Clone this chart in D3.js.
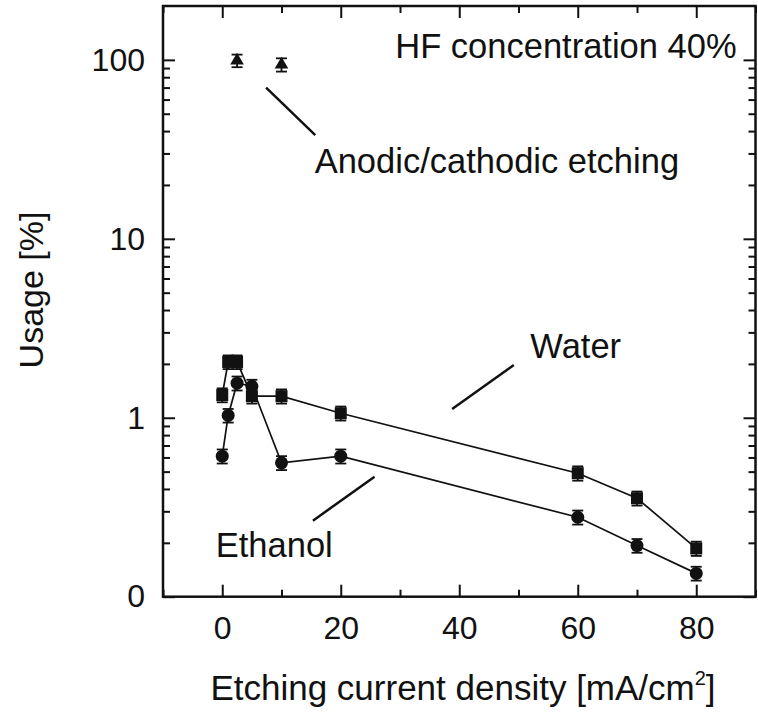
<!DOCTYPE html>
<html>
<head>
<meta charset="utf-8">
<script src="https://cdn.jsdelivr.net/npm/d3@7"></script>
<style>
  html, body { margin: 0; padding: 0; background: #fff; }
  svg { display: block; }
  text { font-family: "Liberation Sans", Arial, sans-serif; fill: #111; }
</style>
</head>
<body>
<div id="chart"></div>
<script>
// Etching current density [mA/cm^2]
const currentDensity = [0, 1, 2.5, 5, 10, 20, 60, 70, 80];
// Usage [%] in water-based electrolyte (squares)
const waterUsage = [1.34, 2.05, 2.05, 1.32, 1.32, 1.06, 0.49, 0.355, 0.186];
const waterErr   = [0.12, 0.18, 0.18, 0.12, 0.12, 0.095, 0.045, 0.032, 0.017];
// Usage [%] in ethanol-based electrolyte (circles)
const ethanolUsage = [0.61, 1.03, 1.56, 1.5, 0.56, 0.61, 0.278, 0.193, 0.135];
const ethanolErr   = [0.055, 0.09, 0.14, 0.13, 0.05, 0.055, 0.025, 0.017, 0.012];
// Anodic/cathodic etching (triangles)
const anodicDensity = [2.5, 10];
const anodicUsage   = [99, 94];
const anodicErr     = [8, 8];

const xMajorTicks = [0, 20, 40, 60, 80];
const xMinorTicks = [-10, 10, 30, 50, 70, 90];
const yMajorTicks = [0.1, 1, 10, 100];
const yTickLabels = ["0", "1", "10", "100"];

const W = 758, H = 713;
const plotLeft = 163, plotRight = 755.5, plotTop = 6, plotBottom = 596.7;

const svg = d3.select("#chart").append("svg")
  .attr("width", W).attr("height", H);

const x = d3.scaleLinear().domain([-10, 90]).range([plotLeft, plotRight]);
const y = d3.scaleLog().domain([0.1, 200]).range([plotBottom, plotTop]);

// minor log ticks: 2..9 in each decade
const yMinorTicks = [];
[0.1, 1, 10, 100].forEach(d => {
  for (let k = 2; k <= 9; k++) {
    const v = d * k;
    if (v < 200) yMinorTicks.push(v);
  }
});

const axisG = svg.append("g");

function styleAxis(g) {
  g.select(".domain").remove();
  g.selectAll(".tick line").attr("stroke", "#111").attr("stroke-width", 2);
  g.selectAll(".tick text").style("font-size", "32px")
    .style("font-family", "'Liberation Sans', Arial, sans-serif").attr("fill", "#111");
}

// bottom axis, ticks pointing inward
axisG.append("g").attr("transform", `translate(0,${plotBottom})`)
  .call(d3.axisBottom(x).tickValues(xMajorTicks).tickSizeInner(-12).tickPadding(20)
        .tickFormat(d3.format("d")))
  .call(styleAxis);
axisG.append("g").attr("transform", `translate(0,${plotBottom})`)
  .call(d3.axisBottom(x).tickValues(xMinorTicks).tickSizeInner(-7).tickFormat(""))
  .call(styleAxis);
// top axis
axisG.append("g").attr("transform", `translate(0,${plotTop})`)
  .call(d3.axisTop(x).tickValues(xMajorTicks).tickSizeInner(-12).tickFormat(""))
  .call(styleAxis);
axisG.append("g").attr("transform", `translate(0,${plotTop})`)
  .call(d3.axisTop(x).tickValues(xMinorTicks).tickSizeInner(-7).tickFormat(""))
  .call(styleAxis);
// left axis
axisG.append("g").attr("transform", `translate(${plotLeft},0)`)
  .call(d3.axisLeft(y).tickValues(yMajorTicks).tickSizeInner(-12).tickPadding(18)
        .tickFormat((d, i) => yTickLabels[i]))
  .call(styleAxis);
axisG.append("g").attr("transform", `translate(${plotLeft},0)`)
  .call(d3.axisLeft(y).tickValues(yMinorTicks).tickSizeInner(-7).tickFormat(""))
  .call(styleAxis);
// right axis
axisG.append("g").attr("transform", `translate(${plotRight},0)`)
  .call(d3.axisRight(y).tickValues(yMajorTicks).tickSizeInner(-12).tickFormat(""))
  .call(styleAxis);
axisG.append("g").attr("transform", `translate(${plotRight},0)`)
  .call(d3.axisRight(y).tickValues(yMinorTicks).tickSizeInner(-7).tickFormat(""))
  .call(styleAxis);

// frame
svg.append("rect")
  .attr("x", plotLeft).attr("y", plotTop)
  .attr("width", plotRight - plotLeft).attr("height", plotBottom - plotTop)
  .attr("fill", "none").attr("stroke", "#111").attr("stroke-width", 2.5);

// series data
const water = currentDensity.map((d, i) => ({ x: d, y: waterUsage[i], e: waterErr[i] }));
const ethanol = currentDensity.map((d, i) => ({ x: d, y: ethanolUsage[i], e: ethanolErr[i] }));
const anodic = anodicDensity.map((d, i) => ({ x: d, y: anodicUsage[i], e: anodicErr[i] }));

const line = d3.line().x(d => x(d.x)).y(d => y(d.y));
const plot = svg.append("g");

[water, ethanol].forEach(s => {
  plot.append("path").datum(s).attr("d", line)
    .attr("fill", "none").attr("stroke", "#111").attr("stroke-width", 1.7);
});

function errorBars(s) {
  const g = plot.append("g").attr("stroke", "#111").attr("stroke-width", 1.8);
  s.forEach(d => {
    const cx = x(d.x), y0 = y(d.y - d.e), y1 = y(d.y + d.e);
    g.append("line").attr("x1", cx).attr("x2", cx).attr("y1", y0).attr("y2", y1);
    g.append("line").attr("x1", cx - 5.5).attr("x2", cx + 5.5).attr("y1", y0).attr("y2", y0);
    g.append("line").attr("x1", cx - 5.5).attr("x2", cx + 5.5).attr("y1", y1).attr("y2", y1);
  });
}
errorBars(water);
errorBars(ethanol);
errorBars(anodic);

plot.selectAll(".sq").data(water).join("rect")
  .attr("x", d => x(d.x) - 6).attr("y", d => y(d.y) - 6)
  .attr("width", 12).attr("height", 12).attr("fill", "#111");

plot.selectAll(".ci").data(ethanol).join("circle")
  .attr("cx", d => x(d.x)).attr("cy", d => y(d.y)).attr("r", 6.5)
  .attr("fill", "#111");

plot.selectAll(".tri").data(anodic).join("path")
  .attr("d", d3.symbol().type(d3.symbolTriangle).size(80))
  .attr("transform", d => `translate(${x(d.x)},${y(d.y)})`)
  .attr("fill", "#111");

// annotations with leader lines (positions in data units)
const labels = [
  { text: "HF concentration 40%", x: 29.2, y: 102 },
  { text: "Anodic/cathodic etching", x: 15.6, y: 23.3 },
  { text: "Water", x: 52.0, y: 2.15 },
  { text: "Ethanol", x: -1.1, y: 0.167 }
];
const leaders = [
  { x1: 7.4, y1: 70, x2: 15.7, y2: 38 },
  { x1: 49.2, y1: 1.97, x2: 38.8, y2: 1.12 },
  { x1: 15.3, y1: 0.266, x2: 25.7, y2: 0.468 }
];
svg.append("g").selectAll("text").data(labels).join("text")
  .attr("x", d => x(d.x)).attr("y", d => y(d.y))
  .style("font-size", "34.5px").text(d => d.text);
svg.append("g").selectAll("line").data(leaders).join("line")
  .attr("x1", d => x(d.x1)).attr("y1", d => y(d.y1))
  .attr("x2", d => x(d.x2)).attr("y2", d => y(d.y2))
  .attr("stroke", "#111").attr("stroke-width", 2.5);

// axis titles
const xt = svg.append("text")
  .attr("x", 463).attr("y", 700).attr("text-anchor", "middle")
  .style("font-size", "35px");
xt.append("tspan").text("Etching current density [mA/cm");
xt.append("tspan").attr("dy", -15).style("font-size", "20px").text("2");
xt.append("tspan").attr("dy", 15).text("]");

svg.append("text")
  .attr("transform", "translate(43,290) rotate(-90)")
  .attr("text-anchor", "middle")
  .style("font-size", "34px")
  .text("Usage [%]");
</script>
</body>
</html>
